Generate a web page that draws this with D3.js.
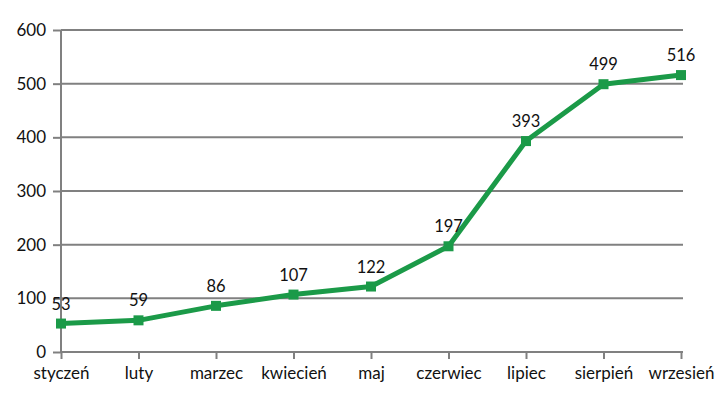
<!DOCTYPE html>
<html>
<head>
<meta charset="utf-8">
<script src="https://cdn.jsdelivr.net/npm/d3@7"></script>
<style>
  body { margin: 0; background: #fff; }
  svg { display: block; font-family: Lato, "Open Sans", sans-serif; }
</style>
</head>
<body>
<div id="chart"></div>
<script>
var months = ["styczeń", "luty", "marzec", "kwiecień", "maj", "czerwiec", "lipiec", "sierpień", "wrzesień"];
var values = [53, 59, 86, 107, 122, 197, 393, 499, 516];
var yTicks = [0, 100, 200, 300, 400, 500, 600];

var width = 720, height = 399;
var margin = {top: 30, right: 39, bottom: 47, left: 61};
var green = "#1b9a48", gray = "#808080";

var svg = d3.select("#chart").append("svg")
  .attr("width", width)
  .attr("height", height);

var x = d3.scalePoint()
  .domain(months)
  .range([margin.left, width - margin.right]);

var y = d3.scaleLinear()
  .domain([0, 600])
  .range([height - margin.bottom, margin.top]);

// grid lines
svg.append("g")
  .selectAll("line")
  .data(yTicks.slice(1))
  .enter().append("line")
  .attr("x1", margin.left)
  .attr("x2", width - margin.right + 2)
  .attr("y1", function(d) { return y(d); })
  .attr("y2", function(d) { return y(d); })
  .attr("stroke", gray)
  .attr("stroke-width", 2);

// y axis
var yAxis = svg.append("g")
  .attr("transform", "translate(" + margin.left + ",0)")
  .call(d3.axisLeft(y).tickValues(yTicks).tickSize(8).tickPadding(7));
yAxis.attr("font-family", "Lato").attr("font-size", 17);
yAxis.selectAll("line").attr("stroke", gray).attr("stroke-width", 2);
yAxis.select(".domain").attr("stroke", gray).attr("stroke-width", 2).attr("d", "M0," + y(0) + "V" + y(600));
yAxis.selectAll("text").attr("fill", "#111");

// x axis
var xAxis = svg.append("g")
  .attr("transform", "translate(0," + y(0) + ")")
  .call(d3.axisBottom(x).tickSize(7).tickPadding(8));
xAxis.attr("font-family", "Lato").attr("font-size", 17);
xAxis.selectAll("line").attr("stroke", gray).attr("stroke-width", 2);
xAxis.select(".domain").attr("stroke", gray).attr("stroke-width", 2)
  .attr("d", "M" + margin.left + ",0H" + (width - margin.right + 2));
xAxis.selectAll("text").attr("fill", "#111");

// line
var line = d3.line()
  .x(function(d, i) { return x(months[i]); })
  .y(function(d) { return y(d); });

svg.append("path")
  .datum(values)
  .attr("d", line)
  .attr("fill", "none")
  .attr("stroke", green)
  .attr("stroke-width", 5)
  .attr("stroke-linejoin", "round");

// markers
svg.selectAll(".marker")
  .data(values)
  .enter().append("rect")
  .attr("class", "marker")
  .attr("x", function(d, i) { return x(months[i]) - 5; })
  .attr("y", function(d) { return y(d) - 5; })
  .attr("width", 10)
  .attr("height", 10)
  .attr("fill", green);

// value labels
svg.selectAll(".label")
  .data(values)
  .enter().append("text")
  .attr("class", "label")
  .attr("x", function(d, i) { return x(months[i]); })
  .attr("y", function(d) { return y(d) - 14; })
  .attr("text-anchor", "middle")
  .attr("font-size", 16.5)
  .attr("fill", "#111")
  .text(function(d) { return d; });
</script>
</body>
</html>
